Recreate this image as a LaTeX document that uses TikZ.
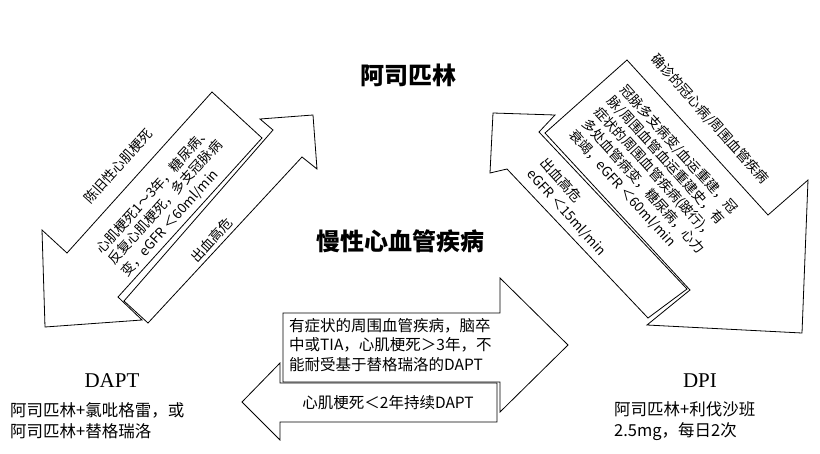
\documentclass[tikz,border=0pt]{standalone}
\usepackage{fontspec}
\setmainfont{Liberation Serif}
\newfontfamily\cjk{Noto Sans CJK SC}
\usetikzlibrary{positioning}
\tikzset{
  band/.style={draw=black, line width=0.8pt, fill=white, line join=miter},
  bandtext/.style={font=\cjk\fontsize{13.5}{17}\selectfont, align=left, inner sep=0pt},
  title/.style={font=\cjk\bfseries\fontsize{24}{28}\selectfont},
  drug/.style={font=\cjk\fontsize{16.5}{21}\selectfont, align=left, inner sep=0pt, anchor=west}
}
\begin{document}
\begin{tikzpicture}[x=1pt,y=-1pt]
  \useasboundingbox (0,0) rectangle (820,453);
  % left pair
  \draw[band] (124,301) -- (273,130) -- (260,119) -- (313,115) -- (317,169) -- (302,157) -- (148,323) -- cycle;
  \draw[band] (42,230) -- (67,253) -- (212,92) -- (262,138) -- (118,297) -- (142,320) -- (45,327) -- cycle;
  \node[bandtext, rotate=48] (oldmi) at (118,166) {陈旧性心肌梗死};
  \node[bandtext, rotate=48] (oldmitxt) at (166,202) {心肌梗死1～3年，糖尿病、\\反复心肌梗死，多支冠脉病\\变，eGFR ＜60ml/min};
  \node[bandtext, rotate=48] (bleedl) at (212,240) {出血高危};
  % right pair
  \draw[band] (627,60) -- (768,215) -- (808,180) -- (802,333) -- (647,325) -- (690,290) -- (545,133) -- cycle;
  \draw[band] (493,113) -- (555,115) -- (539,132) -- (687,289) -- (648,318) -- (507,169) -- (490,173) -- cycle;
  \node[bandtext, rotate=-48] (cad) at (710,119) {确诊的冠心病/周围血管疾病};
  \node[bandtext, rotate=-48] (cadtxt) at (656,175) {冠脉多支病变/血运重建，冠\\脉/周围血管血运重建史，有\\症状的周围血管疾病(跛行)，\\多处血管病变，糖尿病，心力\\衰竭，eGFR ＜60ml/min};
  \node[bandtext, rotate=-48] (bleedr) at (573,207) {出血高危\\eGFR ＜15ml/min};
  % bottom pair
  \draw[band] (283,313) -- (500,313) -- (500,278) -- (568,345) -- (500,412) -- (500,382) -- (283,382) -- cycle;
  \draw[band] (280,383) -- (497,383) -- (497,422) -- (280,422) -- (280,440) -- (242,402) -- (280,363) -- cycle;
  \node[bandtext, anchor=north west, font=\cjk\fontsize{15.5}{19.5}\selectfont] (pad) at (289,318) {有症状的周围血管疾病，脑卒\\中或TIA，心肌梗死＞3年，不\\能耐受基于替格瑞洛的DAPT};
  \node[bandtext, font=\cjk\fontsize{15.5}{19.5}\selectfont] (mi2) at (388,403) {心肌梗死＜2年持续DAPT};
  % titles
  \node[title] (asa) at (408,75) {阿司匹林};
  \node[title] (ccvd) at (400,241) {慢性心血管疾病};
  \node[font=\fontsize{21}{24}\selectfont] (dapt) at (112,381) {DAPT};
  \node[font=\fontsize{21}{24}\selectfont] (dpi) at (700,381) {DPI};
  \node[drug] (daptdrug) at (10,421) {阿司匹林+氯吡格雷，或\\阿司匹林+替格瑞洛};
  \node[drug] (dpidrug) at (614,421) {阿司匹林+利伐沙班\\2.5mg，每日2次};
\end{tikzpicture}
\end{document}
